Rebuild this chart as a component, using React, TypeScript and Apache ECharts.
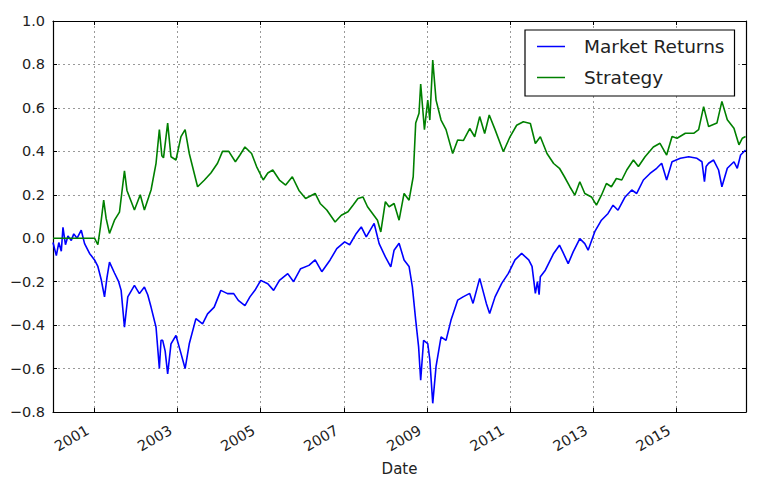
import * as echarts from "echarts";
import React, { useEffect, useRef } from "react";

// [decimal year, cumulative return]
const marketReturns: [number, number][] = [
  [2000.0, -0.02], [2000.04, -0.05], [2000.08, -0.08], [2000.14, -0.02], [2000.2, -0.06],
  [2000.24, 0.05], [2000.3, -0.03], [2000.36, 0.01], [2000.44, -0.01], [2000.5, 0.02],
  [2000.58, 0.0], [2000.68, 0.037], [2000.76, -0.025], [2000.88, -0.07], [2001.0, -0.1],
  [2001.08, -0.13], [2001.16, -0.19], [2001.24, -0.27], [2001.3, -0.18], [2001.36, -0.11],
  [2001.48, -0.16], [2001.58, -0.2], [2001.64, -0.24], [2001.72, -0.41], [2001.8, -0.27],
  [2001.96, -0.217], [2002.08, -0.255], [2002.2, -0.225], [2002.28, -0.26], [2002.36, -0.317],
  [2002.48, -0.41], [2002.56, -0.6], [2002.6, -0.47], [2002.64, -0.47], [2002.7, -0.52],
  [2002.76, -0.625], [2002.84, -0.486], [2002.96, -0.448], [2003.08, -0.53], [2003.18, -0.6],
  [2003.28, -0.486], [2003.44, -0.37], [2003.6, -0.394], [2003.72, -0.348], [2003.88, -0.317],
  [2004.04, -0.24], [2004.2, -0.255], [2004.35, -0.255], [2004.46, -0.286], [2004.62, -0.31],
  [2004.74, -0.27], [2004.86, -0.24], [2005.0, -0.194], [2005.17, -0.21], [2005.31, -0.24],
  [2005.45, -0.194], [2005.65, -0.163], [2005.79, -0.2], [2005.96, -0.14], [2006.16, -0.125],
  [2006.31, -0.1], [2006.47, -0.154], [2006.67, -0.1], [2006.83, -0.048], [2007.02, -0.017],
  [2007.14, -0.03], [2007.3, 0.022], [2007.42, 0.052], [2007.54, 0.006], [2007.73, 0.068],
  [2007.85, -0.025], [2008.0, -0.086], [2008.13, -0.132], [2008.21, -0.055], [2008.33, -0.023],
  [2008.45, -0.1], [2008.57, -0.13], [2008.65, -0.224], [2008.73, -0.377], [2008.8, -0.5],
  [2008.85, -0.654], [2008.92, -0.47], [2009.02, -0.485], [2009.07, -0.56], [2009.14, -0.76],
  [2009.22, -0.59], [2009.34, -0.454], [2009.46, -0.47], [2009.58, -0.377], [2009.74, -0.285],
  [2009.87, -0.27], [2010.03, -0.254], [2010.11, -0.3], [2010.27, -0.185], [2010.43, -0.3],
  [2010.51, -0.347], [2010.64, -0.27], [2010.8, -0.208], [2010.96, -0.162], [2011.12, -0.1],
  [2011.28, -0.07], [2011.45, -0.1], [2011.53, -0.13], [2011.61, -0.254], [2011.66, -0.2],
  [2011.7, -0.26], [2011.73, -0.177], [2011.85, -0.147], [2012.05, -0.07], [2012.19, -0.032],
  [2012.27, -0.063], [2012.4, -0.117], [2012.52, -0.063], [2012.68, -0.002], [2012.8, -0.025],
  [2012.88, -0.055], [2013.04, 0.03], [2013.2, 0.083], [2013.36, 0.114], [2013.48, 0.152],
  [2013.6, 0.129], [2013.77, 0.19], [2013.93, 0.222], [2014.05, 0.206], [2014.21, 0.268],
  [2014.37, 0.298], [2014.53, 0.322], [2014.65, 0.345], [2014.77, 0.268], [2014.9, 0.352],
  [2015.1, 0.368], [2015.3, 0.375], [2015.5, 0.368], [2015.62, 0.352], [2015.68, 0.26],
  [2015.72, 0.33], [2015.78, 0.345], [2015.9, 0.36], [2016.02, 0.314], [2016.1, 0.237],
  [2016.23, 0.322], [2016.39, 0.352], [2016.47, 0.322], [2016.55, 0.383], [2016.67, 0.406],
];

const strategy: [number, number][] = [
  [2000.0, 0.0], [2001.0, 0.0], [2001.08, -0.03], [2001.14, 0.05], [2001.22, 0.175],
  [2001.28, 0.09], [2001.36, 0.022], [2001.48, 0.083], [2001.6, 0.12], [2001.72, 0.31],
  [2001.78, 0.22], [2001.84, 0.19], [2001.96, 0.13], [2002.1, 0.2], [2002.2, 0.13],
  [2002.36, 0.222], [2002.48, 0.345], [2002.56, 0.5], [2002.62, 0.38], [2002.66, 0.37],
  [2002.76, 0.53], [2002.84, 0.375], [2002.96, 0.36], [2003.08, 0.468], [2003.18, 0.5],
  [2003.28, 0.39], [2003.48, 0.237], [2003.64, 0.267], [2003.8, 0.3], [2003.96, 0.345],
  [2004.08, 0.4], [2004.23, 0.4], [2004.39, 0.352], [2004.5, 0.383], [2004.62, 0.42],
  [2004.78, 0.39], [2004.9, 0.33], [2005.06, 0.268], [2005.17, 0.3], [2005.29, 0.314],
  [2005.45, 0.268], [2005.6, 0.245], [2005.76, 0.283], [2005.92, 0.22], [2006.08, 0.183],
  [2006.31, 0.206], [2006.43, 0.16], [2006.59, 0.13], [2006.79, 0.075], [2006.94, 0.106],
  [2007.1, 0.122], [2007.22, 0.152], [2007.34, 0.183], [2007.46, 0.19], [2007.57, 0.145],
  [2007.69, 0.114], [2007.81, 0.083], [2007.89, 0.029], [2008.0, 0.168], [2008.09, 0.145],
  [2008.21, 0.16], [2008.33, 0.083], [2008.45, 0.206], [2008.57, 0.175], [2008.67, 0.283],
  [2008.73, 0.53], [2008.81, 0.575], [2008.85, 0.71], [2008.94, 0.5], [2009.02, 0.636],
  [2009.07, 0.544], [2009.14, 0.82], [2009.22, 0.636], [2009.34, 0.544], [2009.46, 0.5],
  [2009.62, 0.39], [2009.74, 0.452], [2009.88, 0.45], [2010.03, 0.505], [2010.15, 0.467],
  [2010.27, 0.56], [2010.39, 0.482], [2010.5, 0.567], [2010.64, 0.5], [2010.84, 0.398],
  [2011.0, 0.467], [2011.16, 0.52], [2011.32, 0.536], [2011.49, 0.528], [2011.61, 0.436],
  [2011.73, 0.467], [2011.89, 0.39], [2012.05, 0.344], [2012.19, 0.322], [2012.31, 0.283],
  [2012.44, 0.237], [2012.56, 0.198], [2012.68, 0.26], [2012.8, 0.206], [2012.96, 0.19],
  [2013.08, 0.152], [2013.2, 0.198], [2013.32, 0.252], [2013.44, 0.237], [2013.56, 0.275],
  [2013.69, 0.268], [2013.81, 0.314], [2013.97, 0.36], [2014.09, 0.33], [2014.25, 0.375],
  [2014.45, 0.42], [2014.61, 0.437], [2014.77, 0.383], [2014.9, 0.468], [2015.02, 0.46],
  [2015.22, 0.483], [2015.42, 0.483], [2015.54, 0.5], [2015.66, 0.606], [2015.78, 0.514],
  [2015.98, 0.53], [2016.1, 0.63], [2016.23, 0.545], [2016.39, 0.506], [2016.51, 0.43],
  [2016.59, 0.46], [2016.67, 0.468],
];

const yearTicks = [2001, 2003, 2005, 2007, 2009, 2011, 2013, 2015];
const seriesNames = ["Market Returns", "Strategy"];

const FONT = "DejaVu Sans";
const X_MIN = 2000.0;
const X_MAX = 2016.68;

const gridLine = { show: true, lineStyle: { color: "#999", type: [2, 3] as number[], width: 1 } };

const App: React.FC = () => {
  const chartRef = useRef<HTMLDivElement>(null);

  useEffect(() => {
    if (!chartRef.current) return;
    const chart = echarts.init(chartRef.current, null, { renderer: "svg" });

    chart.setOption({
      animation: false,
      backgroundColor: "#fff",
      textStyle: { fontFamily: FONT },
      grid: { left: 53, right: 22, top: 21, bottom: 71, containLabel: false },
      legend: {
        left: 525,
        top: 30,
        orient: "vertical",
        data: seriesNames,
        icon: "rect",
        itemWidth: 28,
        itemHeight: 1.5,
        itemGap: 12,
        padding: [7, 10, 9, 12],
        borderColor: "#000",
        borderWidth: 1.2,
        backgroundColor: "#fff",
        textStyle: { fontFamily: FONT, fontSize: 18.5, color: "#222", padding: [0, 0, 0, 14] },
      },
      xAxis: [
        {
          type: "value",
          min: X_MIN,
          max: X_MAX,
          name: "Date",
          nameLocation: "middle",
          nameGap: 49,
          nameTextStyle: { fontFamily: FONT, fontSize: 15, color: "#222" },
          axisLine: { onZero: false, lineStyle: { color: "#000", width: 1.2 } },
          axisTick: { inside: true, length: 4, customValues: yearTicks, lineStyle: { color: "#000" } },
          axisLabel: {
            customValues: yearTicks,
            rotate: 30,
            margin: 13,
            padding: [0, 8, 0, 0],
            fontFamily: FONT,
            fontSize: 14.5,
            color: "#222",
            formatter: (v: number) => String(Math.round(v)),
          },
          splitLine: gridLine,
        },
        {
          type: "value",
          position: "top",
          min: X_MIN,
          max: X_MAX,
          axisLine: { onZero: false, lineStyle: { color: "#000", width: 1.2 } },
          axisTick: { inside: true, length: 4, customValues: yearTicks, lineStyle: { color: "#000" } },
          axisLabel: { show: false },
          splitLine: { show: false },
        },
      ],
      yAxis: [
        {
          type: "value",
          min: -0.8,
          max: 1.0,
          interval: 0.2,
          axisLine: { show: true, onZero: false, lineStyle: { color: "#000", width: 1.2 } },
          axisTick: { show: true, inside: true, length: 4, lineStyle: { color: "#000" } },
          axisLabel: {
            margin: 8,
            fontFamily: FONT,
            fontSize: 14.5,
            color: "#222",
            formatter: (v: number) => v.toFixed(1).replace("-", "\u2212"),
          },
          splitLine: gridLine,
        },
        {
          type: "value",
          position: "right",
          min: -0.8,
          max: 1.0,
          interval: 0.2,
          axisLine: { show: true, onZero: false, lineStyle: { color: "#000", width: 1.2 } },
          axisTick: { show: true, inside: true, length: 4, lineStyle: { color: "#000" } },
          axisLabel: { show: false },
          splitLine: { show: false },
        },
      ],
      series: [
        {
          name: seriesNames[0],
          type: "line",
          data: marketReturns,
          symbol: "none",
          color: "#0000ff",
          lineStyle: { width: 1.6, color: "#0000ff" },
        },
        {
          name: seriesNames[1],
          type: "line",
          data: strategy,
          symbol: "none",
          color: "#008000",
          lineStyle: { width: 1.6, color: "#008000" },
        },
      ],
    });

    return () => chart.dispose();
  }, []);

  return (
    <div
      ref={chartRef}
      style={{ position: "fixed", left: 0, top: 0, width: 768, height: 483 }}
    />
  );
};

export default App;
